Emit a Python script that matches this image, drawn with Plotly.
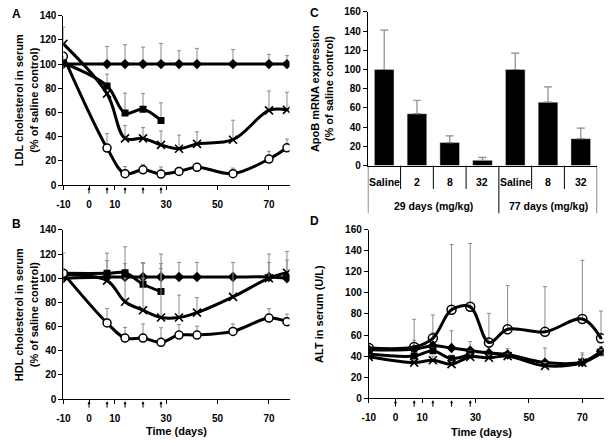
import plotly.graph_objects as go

W, H = 611, 446
FONT = "Liberation Sans"

days = [-10, 7, 14, 21, 28, 35, 42, 56, 70, 77]
days_sq = [-10, 7, 14, 21, 28]
dose_days = [0, 7, 14, 21, 28]
time_ticks = [-10, 0, 10, 30, 50, 70]
time_tick_labels = ["-10", "0", "10", "30", "50", "70"]

# Panel A: LDL cholesterol (% of saline control)
ldl_saline = [100, 100, 100, 100, 100, 100, 100, 100, 100, 100]
ldl_saline_err = [100, 114.5, 116, 114, 117, 111, 113, 112, 108, 107]
ldl_2 = [101, 82, 59.5, 62.7, 53.4]
ldl_2_err = [101, 91.7, 76, 75.6, 68]
ldl_8 = [116.7, 75.6, 38.6, 38.6, 33.2, 30, 34, 37.5, 61.7, 62.2]
ldl_8_err = [130.6, 75.6, 49.3, 47.5, 44.8, 41.3, 44, 53.6, 77.8, 76.7]
ldl_32 = [106.5, 30.6, 9.4, 12.6, 9.1, 11.3, 14.7, 9.4, 21.5, 30.8]
ldl_32_err = [106.5, 42.6, 15.3, 17, 15, 14.7, 14.7, 14, 27.9, 38]

# Panel B: HDL cholesterol (% of saline control)
hdl_saline = [100, 101, 101, 101, 101, 101, 101, 101, 101, 100]
hdl_saline_err = [121, 114.5, 112, 113, 108, 113, 113, 104, 113, 115]
hdl_2 = [104, 104, 104.5, 95, 89]
hdl_2_err = [104, 120.7, 126, 112, 112]
hdl_8 = [103, 98, 80.5, 73.5, 67.5, 67.5, 71.5, 84.5, 100, 104.5]
hdl_8_err = [103, 98, 100, 100, 120, 86, 84, 113, 120, 122]
hdl_32 = [104, 63, 50.5, 50.5, 47, 53, 53, 56, 67, 64]
hdl_32_err = [104, 75, 59.3, 62.2, 59, 61.7, 60.3, 62.2, 74.8, 70.3]

# Panel C: ApoB mRNA expression
apob_cats = ["Saline", "2", "8", "32", "Saline", "8", "32"]
apob_vals = [100, 54, 24, 5.5, 100, 66, 28]
apob_err = [41, 14, 7, 3, 17, 16, 11]
apob_groups = ["29 days (mg/kg)", "77 days (mg/kg)"]
apob_group_sizes = [4, 3]

# Panel D: ALT in serum (U/L)
alt_saline = [46, 46.5, 49.8, 47.6, 45.2, 43, 41.5, 33.8, 34.4, 44.6]
alt_saline_err = [52, 55, 62, 64, 53.8, 48, 47, 47.7, 43, 49]
alt_2 = [42, 40, 45, 37.5, 42]
alt_2_err = [44, 43, 48, 41, 45]
alt_8 = [39.3, 33.8, 36, 32.3, 39.3, 38.4, 40, 30.7, 33.8, 43]
alt_8_err = [41, 36, 40, 35, 42, 41, 42, 34, 41, 46]
alt_32 = [47.6, 48.6, 56.9, 84, 86.8, 52.9, 65.5, 63, 75.3, 56.9]
alt_32_err = [52, 75, 79, 146, 147, 80.6, 107, 106, 131, 82.8]

fig = go.Figure()

ERR_COL = "#8a8a8a"


def add_series(x, y, top, xa, ya, symbol, size, fill, mline=0):
    up = [t - v if t > v else 0 for t, v in zip(top, y)]
    fig.add_trace(go.Scatter(
        x=x, y=y, xaxis=xa, yaxis=ya, mode="lines+markers",
        line=dict(color="black", width=3, shape="spline", smoothing=1),
        marker=dict(symbol=symbol, size=size, color=fill,
                    line=dict(color="black", width=mline)),
        error_y=dict(type="data", symmetric=False, array=up,
                     arrayminus=[0] * len(up), color=ERR_COL,
                     thickness=1, width=2),
        showlegend=False, hoverinfo="x+y"))


# Panel A
add_series(days, ldl_saline, ldl_saline_err, "x", "y", "diamond", 8, "black")
add_series(days_sq, ldl_2, ldl_2_err, "x", "y", "square", 7, "black")
add_series(days, ldl_8, ldl_8_err, "x", "y", "x-thin-open", 8, "black", 1.6)
add_series(days, ldl_32, ldl_32_err, "x", "y", "circle", 8, "white", 1.5)

# Panel B
add_series(days, hdl_saline, hdl_saline_err, "x2", "y2", "diamond", 8, "black")
add_series(days_sq, hdl_2, hdl_2_err, "x2", "y2", "square", 7, "black")
add_series(days, hdl_8, hdl_8_err, "x2", "y2", "x-thin-open", 8, "black", 1.6)
add_series(days, hdl_32, hdl_32_err, "x2", "y2", "circle", 8, "white", 1.5)

# Panel C
cat_pos = list(range(len(apob_cats)))
fig.add_trace(go.Bar(
    x=cat_pos, y=apob_vals, xaxis="x3", yaxis="y3", marker_color="black",
    width=0.6,
    error_y=dict(type="data", symmetric=False, array=apob_err,
                 arrayminus=[0] * len(apob_err), color=ERR_COL,
                 thickness=1.2, width=4),
    showlegend=False))

# Panel D
add_series(days, alt_saline, alt_saline_err, "x4", "y4", "diamond", 8, "black")
add_series(days_sq, alt_2, alt_2_err, "x4", "y4", "square", 7, "black")
add_series(days, alt_8, alt_8_err, "x4", "y4", "x-thin-open", 8, "black", 1.6)
add_series(days, alt_32, alt_32_err, "x4", "y4", "circle-open-dot", 9, "black", 1.5)


def px_x(p):
    return p / W


def px_y(p):
    return 1 - p / H


tickfont = dict(family=FONT, size=10, color="black", weight="bold")
axline = dict(showline=True, linecolor="black", linewidth=1, ticks="outside",
              ticklen=4, tickcolor="black", tickwidth=1, showgrid=False,
              zeroline=False, tickfont=tickfont)

xstand = dict(ticklabelstandoff=6, tickvals=time_ticks,
              ticktext=time_tick_labels)

fig.update_layout(
    width=W, height=H, margin=dict(l=0, r=0, t=0, b=0),
    plot_bgcolor="white", paper_bgcolor="white",
    font=dict(family=FONT, color="black"),
    xaxis=dict(domain=[px_x(57), px_x(285.8)], range=[-10, 78], anchor="y",
               **axline, **xstand),
    yaxis=dict(domain=[px_y(184), px_y(10)], range=[0, 140], anchor="x",
               tickvals=list(range(0, 141, 20)), **axline),
    xaxis2=dict(domain=[px_x(57), px_x(285.8)], range=[-10, 78], anchor="y2",
                **axline, **xstand),
    yaxis2=dict(domain=[px_y(404), px_y(230)], range=[0, 140], anchor="x2",
                tickvals=list(range(0, 141, 20)), **axline),
    xaxis3=dict(domain=[px_x(365), px_x(597)], range=[-0.5, 6.5], anchor="y3",
                showline=True, linecolor="black", linewidth=1, showgrid=False,
                zeroline=False, showticklabels=False, ticks=""),
    yaxis3=dict(domain=[px_y(164), px_y(6)], range=[0, 160], anchor="x3",
                tickvals=list(range(0, 161, 20)), **axline),
    xaxis4=dict(domain=[px_x(366), px_x(603.6)], range=[-10, 78], anchor="y4",
                **axline, **xstand),
    yaxis4=dict(domain=[px_y(403), px_y(230)], range=[0, 160], anchor="x4",
                tickvals=list(range(0, 161, 20)), **axline),
    bargap=0.4,
)

ann = []
lab = dict(family=FONT, size=12, color="black", weight="bold")
for txt, x, y in [("A", 10, 8), ("B", 10, 224), ("C", 311, 7), ("D", 311, 221)]:
    ann.append(dict(text=txt, x=px_x(x), y=px_y(y), xref="paper", yref="paper",
                    showarrow=False, font=lab, xanchor="center", yanchor="middle"))

ttl = dict(family=FONT, size=11, color="black", weight="bold")
for txt, x, y in [
    ("LDL cholesterol in serum<br>(% of saline control)", 20, 97),
    ("HDL cholesterol in serum<br>(% of saline control)", 20, 317),
    ("ApoB mRNA expression<br>(% of saline control)", 318, 85),
    ("ALT in serum (U/L)", 316, 316),
]:
    ann.append(dict(text=txt, x=px_x(x), y=px_y(y), xref="paper", yref="paper",
                    showarrow=False, font=ttl, textangle=-90,
                    xanchor="center", yanchor="middle"))

for x, y in [(171, 437), (480, 438)]:
    ann.append(dict(text="Time (days)", x=px_x(x), y=px_y(y), xref="paper",
                    yref="paper", showarrow=False, font=ttl,
                    xanchor="center", yanchor="middle"))

# dosing arrows
for xa, ya in [("x", "y"), ("x2", "y2"), ("x4", "y4")]:
    for d in dose_days:
        ann.append(dict(x=d, y=-0.012, xref=xa, yref=ya + " domain", text="",
                        showarrow=True, arrowhead=2, arrowsize=0.6,
                        arrowwidth=1, arrowcolor="black", ax=0, ay=8))

# Panel C category labels and grouping table
catfont = dict(family=FONT, size=10.5, color="black", weight="bold")
for i, c in enumerate(apob_cats):
    ann.append(dict(text=c, x=cat_pos[i], y=px_y(181), xref="x3", yref="paper",
                    showarrow=False, font=catfont, xanchor="center",
                    yanchor="middle"))

shapes = []
start = 0
bounds_long = [-0.5]
for g, n in zip(apob_groups, apob_group_sizes):
    centre = start + (n - 1) / 2
    ann.append(dict(text=g, x=centre, y=px_y(206), xref="x3", yref="paper",
                    showarrow=False, font=catfont, xanchor="center",
                    yanchor="middle"))
    start += n
    bounds_long.append(start - 0.5)

for b in [i - 0.5 for i in range(len(apob_cats) + 1)]:
    bottom = 213 if b in bounds_long else 188
    shapes.append(dict(type="line", xref="x3", yref="paper", x0=b, x1=b,
                       y0=px_y(164), y1=px_y(bottom),
                       line=dict(color="black", width=1)))

fig.update_layout(annotations=ann, shapes=shapes)

fig.write_html(
    "out.html",
    config={"displayModeBar": False},
    post_script="document.body.style.margin='0';"
                "document.body.style.overflow='hidden';",
)
